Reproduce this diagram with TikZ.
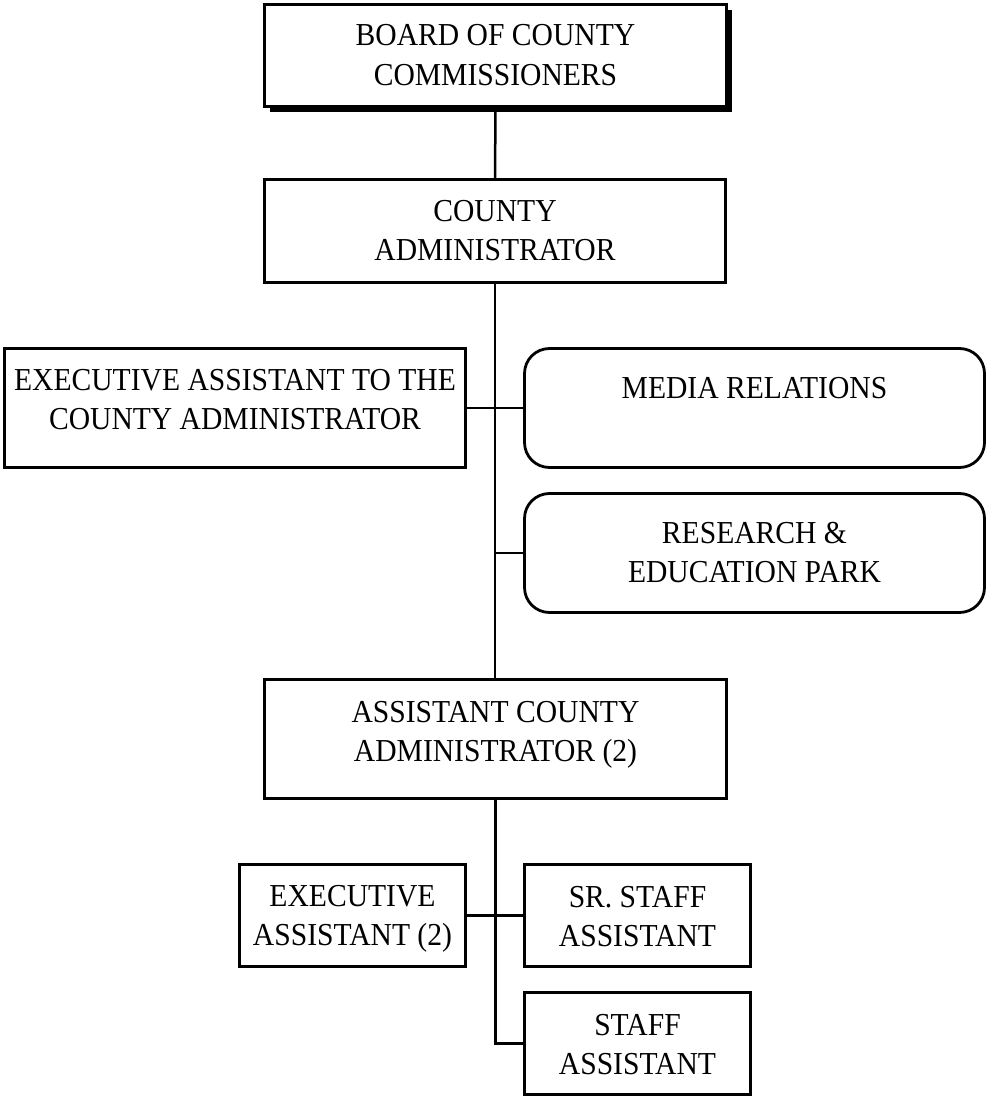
\documentclass[tikz,border=0pt]{standalone}
\usepackage{graphicx}
\usepackage{fontspec}
\setmainfont{Liberation Serif}
\usetikzlibrary{shadows}

\tikzset{
  box/.style={draw=black, line width=2.8pt, fill=white, inner sep=0pt},
  roundbox/.style={box, rounded corners=25pt},
  label text/.style={anchor=base, inner sep=0pt, font=\fontsize{29.6}{37}\selectfont},
  link/.style={draw=black, line width=2.5pt}
}
% centred title lines, slightly tall type as in the printed chart
\newcommand{\tallText}[1]{\scalebox{1}[1.08]{#1}}
\newcommand{\twolines}[2]{\tallText{\begin{tabular}[t]{@{}c@{}}#1\\#2\end{tabular}}}

\begin{document}
\begin{tikzpicture}[x=1pt, y=-1pt]
  \useasboundingbox (0,0) rectangle (987,1097);

  % boxes
  \node[box, minimum width=462pt, minimum height=102pt,
        drop shadow={shadow xshift=5pt, shadow yshift=-6pt, fill=black, opacity=1}]
        (board) at (495.5,55.5) {};
  \node[box, minimum width=461pt, minimum height=103pt] (admin) at (495,231) {};
  \node[box, minimum width=461pt, minimum height=119pt] (exec) at (235,408) {};
  \node[roundbox, minimum width=460pt, minimum height=119pt] (media) at (754.5,408) {};
  \node[roundbox, minimum width=460pt, minimum height=119pt] (research) at (754.5,553) {};
  \node[box, minimum width=462pt, minimum height=119pt] (asst) at (495.5,739) {};
  \node[box, minimum width=226pt, minimum height=102pt] (easst) at (352.5,915.5) {};
  \node[box, minimum width=226pt, minimum height=102pt] (sr) at (637.5,915.5) {};
  \node[box, minimum width=226pt, minimum height=102pt] (staff) at (637.5,1043.5) {};

  % titles
  \node[label text] (board-t) at (495.5,46) {\twolines{BOARD OF COUNTY}{COMMISSIONERS}};
  \node[label text] (admin-t) at (495,221) {\twolines{COUNTY}{ADMINISTRATOR}};
  \node[label text] (exec-t) at (235,390) {\twolines{EXECUTIVE ASSISTANT TO THE}{COUNTY ADMINISTRATOR}};
  \node[label text] (media-t) at (754.5,398) {\tallText{MEDIA RELATIONS}};
  \node[label text] (research-t) at (754.5,543) {\twolines{RESEARCH \&}{EDUCATION PARK}};
  \node[label text] (asst-t) at (495.5,722) {\twolines{ASSISTANT COUNTY}{ADMINISTRATOR (2)}};
  \node[label text] (easst-t) at (352.5,906) {\twolines{EXECUTIVE}{ASSISTANT (2)}};
  \node[label text] (sr-t) at (637.5,907) {\twolines{SR. STAFF}{ASSISTANT}};
  \node[label text] (staff-t) at (637.5,1035) {\twolines{STAFF}{ASSISTANT}};

  % connectors
  \path[link] (board.south) -- (admin.north);
  \path[link] (admin.south) -- (admin.south |- asst.north);
  \path[link] (exec.east) -- (media.west);
  \path[link] (admin.south |- research.west) -- (research.west);
  \path[link] (asst.south) |- (staff.west);
  \path[link] (easst.east) -- (sr.west);
\end{tikzpicture}
\end{document}
